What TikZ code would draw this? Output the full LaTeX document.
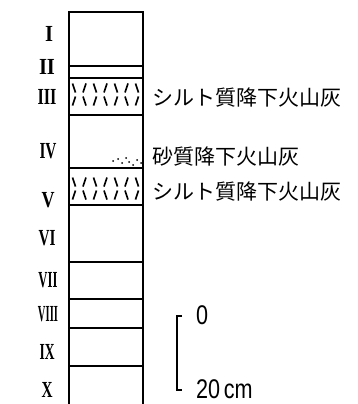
\documentclass[tikz,border=0pt]{standalone}
\usepackage{fontspec}
\setmainfont{Liberation Serif}
\newfontfamily\jpfont{Noto Sans CJK JP}
\newfontfamily\scalefont{Liberation Sans}
\newcommand{\layerno}[2]{\resizebox{#1pt}{\height}{#2}}

\begin{document}
\begin{tikzpicture}[x=1pt,y=-1pt,
  col/.style={line width=1.4pt},
  hatch/.style={line width=1.6pt},
  layerlabel/.style={inner sep=0pt,font=\fontsize{23}{23}\selectfont\bfseries},
  tephra/.style={inner sep=0pt,anchor=west,font=\jpfont\fontsize{21}{21}\selectfont},
  scalelabel/.style={inner sep=0pt,anchor=west,font=\scalefont\fontsize{27}{27}\selectfont}]
\useasboundingbox (0,0) rectangle (358,404);
\draw[col] (69,404) -- (69,12) -- (143,12) -- (143,404);
\foreach \y in {66,78,115,168,205,262,299,328,366}
  \draw[col] (69,\y) -- (143,\y);
% tephra layers III and V
\foreach \y in {88,182} {
  \foreach \i in {0,2,4,6} \draw[hatch] (72.5+10.5*\i,\y-4.5) -- (75.5+10.5*\i,\y+4.5);
  \foreach \i in {1,3,5} \draw[hatch] (75.5+10.5*\i,\y-4.5) -- (72.5+10.5*\i,\y+4.5);
}
\foreach \y in {101,195} {
  \foreach \i in {0,2,4,6} \draw[hatch] (75.5+10.5*\i,\y-4.5) -- (72.5+10.5*\i,\y+4.5);
  \foreach \i in {1,3,5} \draw[hatch] (72.5+10.5*\i,\y-4.5) -- (75.5+10.5*\i,\y+4.5);
}
% sand in IV
\foreach \p in {(113,161),(118,159),(122,163),(126,158),(129,162),(133,165),(137,160),(141,163)}
  \fill \p circle (1);
\node[layerlabel] (l1) at (49,34) {\layerno{8}{I}};
\node[layerlabel] (l2) at (47,67) {\layerno{16}{II}};
\node[layerlabel] (l3) at (47,97) {\layerno{19}{III}};
\node[layerlabel] (l4) at (48,151) {\layerno{17}{IV}};
\node[layerlabel] (l5) at (48,200) {\layerno{13}{V}};
\node[layerlabel] (l6) at (47,238) {\layerno{17}{VI}};
\node[layerlabel] (l7) at (48,280) {\layerno{19}{VII}};
\node[layerlabel] (l8) at (48,314) {\layerno{20}{VIII}};
\node[layerlabel] (l9) at (47,352) {\layerno{15}{IX}};
\node[layerlabel] (l10) at (47,390) {\layerno{11}{X}};
\node[tephra] (silt1) at (152,98) {シルト質降下火山灰};
\node[tephra] (sand) at (152,157) {砂質降下火山灰};
\node[tephra] (silt2) at (152,192) {シルト質降下火山灰};
% scale bar
\coordinate (top) at (177,316);
\coordinate (bot) at (177,390);
\draw[line width=1.4pt] ([xshift=5pt]top) -- (top) -- (bot) -- ([xshift=5pt]bot);
\node[scalelabel] (zero) at (196,315) {\scalebox{0.8}[1]{0}};
\node[scalelabel] (twenty) at (196,389) {\scalebox{0.8}[1]{20\,cm}};
\end{tikzpicture}
\end{document}
